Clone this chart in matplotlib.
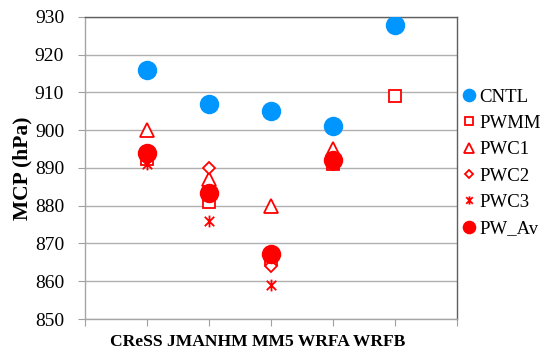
import matplotlib
matplotlib.use("Agg")
import matplotlib.pyplot as plt
from matplotlib.path import Path

# Minimum central pressure by model and experiment
models = ["CReSS", "JMANHM", "MM5", "WRFA", "WRFB"]
cntl = [916, 907, 905, 901, 928]
pwmm = [892.5, 881, 866, 891, 909]
pwc1 = [900, 887, 880, 895, None]
pwc2 = [892.5, 890, 864, 891, None]
pwc3 = [891, 876, 859, 891, None]
pw_av = [894, 883.5, 867.2, 892, None]

series_names = ["CNTL", "PWMM", "PWC1", "PWC2", "PWC3", "PW_Av"]
yticks = [850, 860, 870, 880, 890, 900, 910, 920, 930]

plt.rcParams["font.family"] = ["Liberation Serif", "DejaVu Serif"]

BLUE = "#0096ff"
RED = "#ff0000"

# asterisk: an X with a vertical bar through it
star = Path(
    [(0, -1), (0, 1), (-0.8, -0.8), (0.8, 0.8), (-0.8, 0.8), (0.8, -0.8)],
    [Path.MOVETO, Path.LINETO, Path.MOVETO, Path.LINETO, Path.MOVETO, Path.LINETO],
)

W, H = 542, 349
fig = plt.figure(figsize=(W / 100, H / 100), dpi=100)
ax = fig.add_axes([85 / W, 1 - 319 / H, (457 - 85) / W, (319 - 17) / H])

xpos = list(range(1, len(models) + 1))


def pts(vals):
    xs = [x for x, v in zip(xpos, vals) if v is not None]
    ys = [v for v in vals if v is not None]
    return xs, ys


styles = [
    (cntl, dict(marker="o", ms=14, mfc=BLUE, mec=BLUE, mew=0)),
    (pwmm, dict(marker="s", ms=9.0, mfc="white", mec=RED, mew=1.3)),
    (pwc1, dict(marker="^", ms=9.5, mfc="white", mec=RED, mew=1.3)),
    (pwc2, dict(marker="D", ms=6.5, mfc="white", mec=RED, mew=1.3)),
    (pwc3, dict(marker=star, ms=8.5, mfc=RED, mec=RED, mew=1.3)),
    (pw_av, dict(marker="o", ms=14, mfc=RED, mec=RED, mew=0)),
]

for (vals, st), name in zip(styles, series_names):
    xs, ys = pts(vals)
    ax.plot(xs, ys, linestyle="none", label=name, zorder=3, **st)

ax.set_xlim(0, 6)
ax.set_ylim(850, 930)
ax.set_yticks(yticks)
ax.set_xticks(range(0, 7))
ax.set_xticklabels([])
ax.tick_params(axis="y", labelsize=14, length=5, color="#a0a0a0", direction="out", pad=10)
ax.tick_params(axis="x", length=5, color="#a0a0a0", direction="out")

# model names written as one run of text beneath the axis
fig.text(258 / W, 1 - 346.5 / H, " ".join(models), ha="center", va="baseline",
         fontsize=12.6, fontweight="bold")

ax.grid(axis="y", color="#b0b0b0", linewidth=1.0)
ax.set_axisbelow(True)
for side in ["left", "bottom"]:
    ax.spines[side].set_color("#a6a6a6")
    ax.spines[side].set_linewidth(1.0)
for side in ["top", "right"]:
    ax.spines[side].set_color("#606060")
    ax.spines[side].set_linewidth(1.0)

ax.set_ylabel("MCP (hPa)", fontsize=15.5, fontweight="bold")
ax.yaxis.set_label_coords(-0.14, 0.5)

leg = ax.legend(loc="upper left", bbox_to_anchor=(461.5 / W, 1 - 88.5 / H),
                bbox_transform=fig.transFigure, frameon=False, fontsize=13.5,
                handlelength=0.8, handletextpad=0.15, labelspacing=0.49,
                markerscale=0.7, borderpad=0, borderaxespad=0)

fig.savefig("out.png", dpi=100)
